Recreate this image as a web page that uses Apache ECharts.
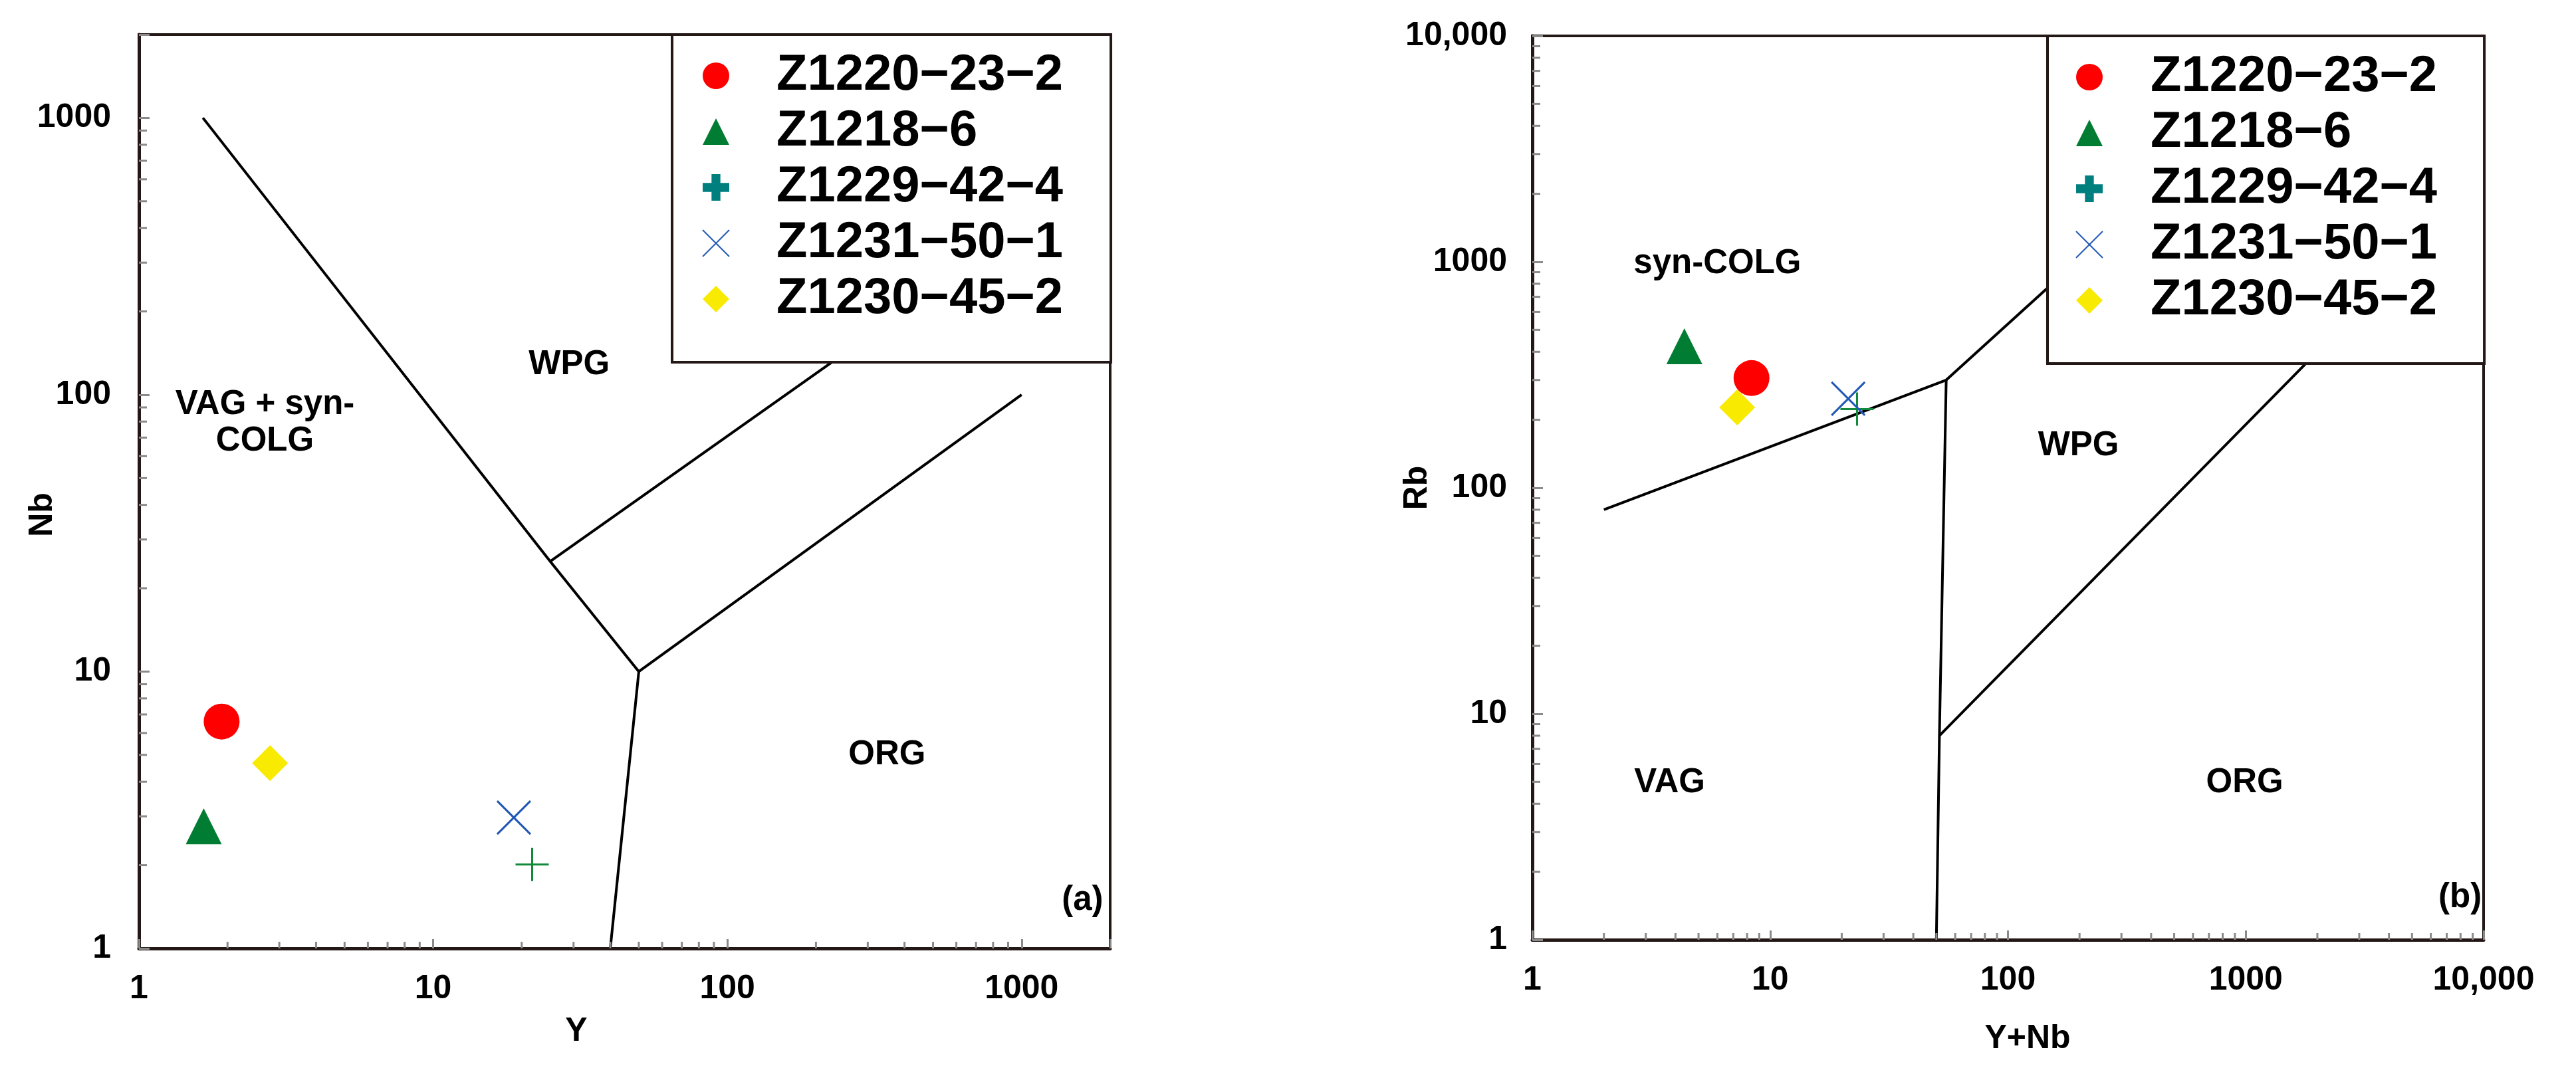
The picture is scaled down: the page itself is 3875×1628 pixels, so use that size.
<!DOCTYPE html>
<html>
<head>
<meta charset="utf-8">
<title>Nb-Y and Rb-(Y+Nb) diagrams</title>
<script src="https://cdn.jsdelivr.net/npm/echarts@6/dist/echarts.min.js"></script>
<style>
  html, body { margin: 0; padding: 0; background: #fff; }
  #chart { width: 3875px; height: 1628px; }
</style>
</head>
<body>
<div id="chart"></div>
<script>
// sample names (same order in both diagrams)
const sampleNames = ['Z1220\u221223\u22122', 'Z1218\u22126', 'Z1229\u221242\u22124', 'Z1231\u221250\u22121', 'Z1230\u221245\u22122'];

// (a) Nb vs Y
const yValues  = [1.91, 1.66, 21.7, 18.8, 2.79];
const nbValues = [6.6, 2.76, 2.01, 2.97, 4.67];

// (b) Rb vs Y+Nb
const yNbValues = [8.35, 4.36, 23.2, 21.3, 7.27];
const rbValues  = [306, 423, 223, 248, 227];

// field boundaries (Pearce et al. 1984)
const nbBoundary1 = [[1.65, 1000], [25, 25], [50, 10], [40, 1]];
const nbBoundary2 = [[25, 25], [1000, 400]];
const nbBoundary3 = [[50, 10], [1000, 100]];
const rbBoundary1 = [[2, 80], [55, 300], [400, 2000]];
const rbBoundary2 = [[55, 300], [51.5, 8], [50, 1]];
const rbBoundary3 = [[51.5, 8], [2000, 400]];

// field names
const fieldNamesA = ['VAG + syn-\nCOLG', 'WPG', 'ORG', '(a)'];
const fieldPosA   = [[2.68, 79], [29, 128], [349, 5.0], [1611, 1.49]];
const fieldNamesB = ['syn-COLG', 'WPG', 'VAG', 'ORG', '(b)'];
const fieldPosB   = [[6.0, 977], [198, 153], [3.78, 4.96], [990, 4.96], [7960, 1.53]];

// axis ranges and minor ticks
const rangeA = [1, 2000];
const rangeB = [1, 10000];
const minorTicksA = [2, 3, 4, 5, 6, 7, 8, 9, 20, 30, 40, 50, 60, 70, 80, 90, 200, 300, 400, 500, 600, 700, 800, 900];
const minorTicksB = minorTicksA.concat([2000, 3000, 4000, 5000, 6000, 7000, 8000, 9000]);

const FONT = "'Liberation Sans', Arial, Helvetica, sans-serif";
const AXIS_COLOR = '#231815';
const TICK_COLOR = '#8a8a8a';

const symbols = ['circle', 'triangle', 'path://M5,0V10M0,5H10', 'path://M0,0L10,10M10,0L0,10', 'diamond'];
const symbolSizes = [54, 54, 50, 50, 54];
const itemStyles = [
  { color: '#ff0000', opacity: 1 },
  { color: '#007d33', opacity: 1 },
  { color: 'transparent', borderColor: '#128a3c', borderWidth: 3, opacity: 1 },
  { color: 'transparent', borderColor: '#2158b6', borderWidth: 3, opacity: 1 },
  { color: '#f8ea00', opacity: 1 }
];

function labelFormatter(v) {
  const l = Math.log10(v);
  if (Math.abs(l - Math.round(l)) > 1e-6) return '';
  const r = Math.round(v);
  return r === 10000 ? '10,000' : String(r);
}

function makeXAxis(idx, range, name, namePad, nameGap) {
  return {
    type: 'log', logBase: 10, gridIndex: idx, min: range[0], max: range[1],
    name: name, nameLocation: 'middle', nameGap: nameGap, nameMoveOverlap: false,
    nameTextStyle: { fontSize: 50, fontWeight: 'bold', color: '#000', fontFamily: FONT, padding: namePad },
    axisLine: { show: true, lineStyle: { color: AXIS_COLOR, width: 5 } },
    axisTick: { show: true, inside: true, length: 14, lineStyle: { color: TICK_COLOR, width: 3 } },
    axisLabel: { fontSize: 50, fontWeight: 'bold', color: '#000', fontFamily: FONT, margin: 36, formatter: labelFormatter },
    splitLine: { show: false }
  };
}

function makeYAxis(idx, range, name, namePad, nameGap, margin) {
  return {
    type: 'log', logBase: 10, gridIndex: idx, min: range[0], max: range[1],
    name: name, nameLocation: 'middle', nameGap: nameGap, nameMoveOverlap: false,
    nameTextStyle: { fontSize: 50, fontWeight: 'bold', color: '#000', fontFamily: FONT, padding: namePad },
    axisLine: { show: true, lineStyle: { color: AXIS_COLOR, width: 5 } },
    axisTick: { show: true, inside: true, length: 16, lineStyle: { color: TICK_COLOR, width: 3 } },
    axisLabel: { fontSize: 50, fontWeight: 'bold', color: '#000', fontFamily: FONT, margin: margin, formatter: labelFormatter },
    splitLine: { show: false }
  };
}

function boundarySeries(idx, data) {
  return {
    type: 'line', xAxisIndex: idx, yAxisIndex: idx, data: data,
    symbol: 'none', silent: true, z: 2,
    lineStyle: { color: '#000', width: 4 }
  };
}

function sampleSeries(idx, xs, ys) {
  return sampleNames.map((n, i) => ({
    name: n, type: 'scatter', xAxisIndex: idx, yAxisIndex: idx, z: 5,
    symbol: symbols[i], symbolSize: symbolSizes[i], itemStyle: itemStyles[i],
    emphasis: { disabled: true },
    data: [[xs[i], ys[i]]]
  }));
}

function fieldLabelSeries(idx, names, pos) {
  return {
    type: 'scatter', xAxisIndex: idx, yAxisIndex: idx, silent: true, z: 3,
    symbolSize: 1, itemStyle: { color: 'transparent', opacity: 1 },
    label: {
      show: true, position: 'inside', formatter: p => p.name,
      fontSize: 51, fontWeight: 'bold', color: '#000', fontFamily: FONT, lineHeight: 55
    },
    data: names.map((n, i) => ({ name: n, value: pos[i] }))
  };
}

// minor log ticks, drawn through the axis scales
function minorTickSeries(idx, values, range, dir, len) {
  return {
    type: 'custom', xAxisIndex: idx, yAxisIndex: idx, silent: true, z: 3,
    data: values.map(v => dir === 'x' ? [v, range[0]] : [range[0], v]),
    renderItem(params, api) {
      const p = api.coord([api.value(0), api.value(1)]);
      const shape = dir === 'x'
        ? { x1: p[0], y1: p[1], x2: p[0], y2: p[1] - len }
        : { x1: p[0], y1: p[1], x2: p[0] + len, y2: p[1] };
      return { type: 'line', shape: shape, style: { stroke: TICK_COLOR, lineWidth: 3 } };
    }
  };
}

function makeLegend(left, top, pad, textPad) {
  return {
    orient: 'vertical', left: left, top: top, padding: pad,
    itemWidth: 40, itemHeight: 40, itemGap: 0,
    backgroundColor: '#fff', borderColor: AXIS_COLOR, borderWidth: 4,
    selectedMode: false,
    textStyle: { fontSize: 76, fontWeight: 'bold', color: '#000', fontFamily: FONT, lineHeight: 84, padding: textPad },
    data: [
      { name: sampleNames[0], icon: 'circle' },
      { name: sampleNames[1], icon: 'triangle' },
      { name: sampleNames[2], icon: 'path://M3,0H6V3H9V6H6V9H3V6H0V3H3Z', itemStyle: { color: '#007f7f', borderWidth: 0 } },
      { name: sampleNames[3], icon: 'path://M0,0L10,10M10,0L0,10', itemStyle: { color: 'transparent', borderColor: '#2158b6', borderWidth: 2 } },
      { name: sampleNames[4], icon: 'diamond' }
    ]
  };
}

const chart = echarts.init(document.getElementById('chart'));
chart.setOption({
  animation: false,
  backgroundColor: '#fff',
  textStyle: { fontFamily: FONT },
  grid: [
    { left: 209, top: 52, width: 1461, height: 1375, show: true, borderColor: AXIS_COLOR, borderWidth: 4 },
    { left: 2305, top: 54, width: 1431, height: 1360, show: true, borderColor: AXIS_COLOR, borderWidth: 4 }
  ],
  xAxis: [
    makeXAxis(0, rangeA, 'Y', [0, 145, 0, 0], 100),
    makeXAxis(1, rangeB, 'Y+Nb', [0, 0, 0, 59], 124)
  ],
  yAxis: [
    makeYAxis(0, rangeA, 'Nb', [0, 70, 0, 0], 120, 42),
    makeYAxis(1, rangeB, 'Rb', [0, 0, 0, 0], 148, 38)
  ],
  legend: [
    makeLegend(1011, 52, [20, 72, 53, 45], [0, 0, 0, 66]),
    makeLegend(3080, 54, [20, 71, 53, 42], [0, 0, 0, 67])
  ],
  series: [
    boundarySeries(0, nbBoundary1),
    boundarySeries(0, nbBoundary2),
    boundarySeries(0, nbBoundary3),
    boundarySeries(1, rbBoundary1),
    boundarySeries(1, rbBoundary2),
    boundarySeries(1, rbBoundary3),
    minorTickSeries(0, minorTicksA, rangeA, 'x', 10),
    minorTickSeries(0, minorTicksA, rangeA, 'y', 12),
    minorTickSeries(1, minorTicksB, rangeB, 'x', 10),
    minorTickSeries(1, minorTicksB, rangeB, 'y', 12),
    fieldLabelSeries(0, fieldNamesA, fieldPosA),
    fieldLabelSeries(1, fieldNamesB, fieldPosB)
  ].concat(sampleSeries(0, yValues, nbValues), sampleSeries(1, yNbValues, rbValues))
});
</script>
</body>
</html>
